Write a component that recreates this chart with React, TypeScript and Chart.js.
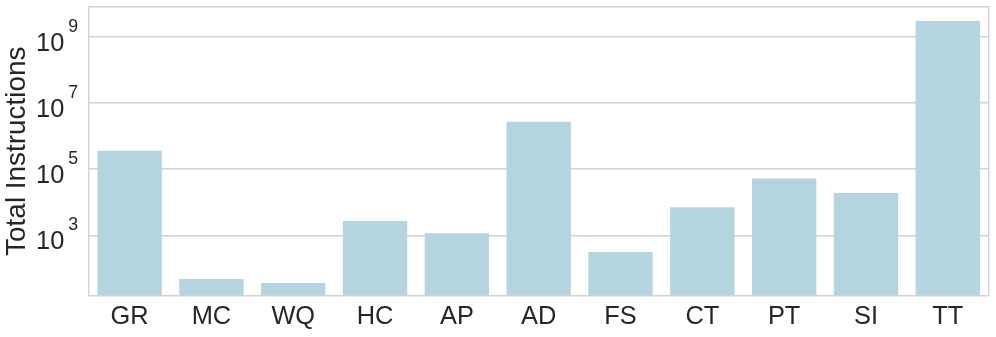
import React, { useEffect, useRef } from 'react';
import { Chart, registerables } from 'chart.js';

Chart.register(...registerables);

const categories = ['GR', 'MC', 'WQ', 'HC', 'AP', 'AD', 'FS', 'CT', 'PT', 'SI', 'TT'];
const totalInstructions = [360000, 48, 36, 2700, 1150, 2700000, 316, 7000, 52000, 19000, 3000000000];
const yTickExponents = [3, 5, 7, 9];
const yMin = 15;
const yMax = 8.05e9;

const FONT = '"Liberation Sans", Arial, sans-serif';
const TICK_SIZE = 25.4;
const EXP_SIZE = 17.8;
const TITLE_SIZE = 27.9;
const TEXT_COLOR = '#262626';
const GRID_COLOR = '#d2d2d2';
const BAR_COLOR = '#b4d4df';

const frameAndLabels = {
  id: 'frameAndLabels',
  afterDraw(chart: any) {
    const { ctx, chartArea, scales } = chart;
    const { left, right, top, bottom } = chartArea;
    ctx.save();
    ctx.strokeStyle = GRID_COLOR;
    ctx.lineWidth = 1.4;
    ctx.beginPath();
    ctx.moveTo(left, top);
    ctx.lineTo(right, top);
    ctx.lineTo(right, bottom);
    ctx.lineTo(left, bottom);
    ctx.closePath();
    ctx.stroke();

    const y = scales.y;
    ctx.fillStyle = TEXT_COLOR;
    ctx.textBaseline = 'alphabetic';
    yTickExponents.forEach((e) => {
      const py = y.getPixelForValue(Math.pow(10, e));
      ctx.font = `${TICK_SIZE}px ${FONT}`;
      ctx.textAlign = 'right';
      ctx.fillText('10', left - 24.4, py + 14);
      ctx.font = `${EXP_SIZE}px ${FONT}`;
      ctx.textAlign = 'left';
      ctx.fillText(String(e), left - 20.4, py - 5);
    });
    ctx.restore();
  },
};

export default function App() {
  const ref = useRef<HTMLCanvasElement>(null);

  useEffect(() => {
    document.body.style.margin = '0';
    if (!ref.current) return;
    const chart = new Chart(ref.current, {
      type: 'bar',
      data: {
        labels: categories,
        datasets: [
          {
            label: 'Total Instructions',
            data: totalInstructions,
            backgroundColor: BAR_COLOR,
            borderWidth: 0,
            categoryPercentage: 0.787,
            barPercentage: 1,
          },
        ],
      },
      options: {
        animation: false,
        responsive: false,
        devicePixelRatio: 1,
        layout: { padding: { top: 6.7, right: 7.3, left: 0, bottom: 0 } },
        plugins: {
          legend: { display: false },
          tooltip: { enabled: false },
        },
        scales: {
          x: {
            type: 'category',
            offset: true,
            grid: { display: false, drawTicks: false },
            border: { display: false },
            ticks: {
              color: TEXT_COLOR,
              font: { family: FONT, size: TICK_SIZE },
              padding: 6,
              maxRotation: 0,
              autoSkip: false,
            },
            afterFit: (s: any) => {
              s.height = 41.3;
            },
          },
          y: {
            type: 'logarithmic',
            min: yMin,
            max: yMax,
            grid: { color: GRID_COLOR, lineWidth: 1.4, drawTicks: false },
            border: { display: false },
            ticks: { display: false },
            afterBuildTicks: (s: any) => {
              s.ticks = yTickExponents.map((e) => ({ value: Math.pow(10, e) }));
            },
            title: {
              display: true,
              text: 'Total Instructions',
              color: TEXT_COLOR,
              font: { family: FONT, size: TITLE_SIZE },
              padding: { top: 1, bottom: 0 },
            },
            afterFit: (s: any) => {
              s.width = 88.7;
            },
          },
        },
      },
      plugins: [frameAndLabels],
    });
    return () => chart.destroy();
  }, []);

  return (
    <div style={{ width: 996, height: 337, background: '#ffffff' }}>
      <canvas ref={ref} width={996} height={337} style={{ display: 'block', width: 996, height: 337 }} />
    </div>
  );
}
